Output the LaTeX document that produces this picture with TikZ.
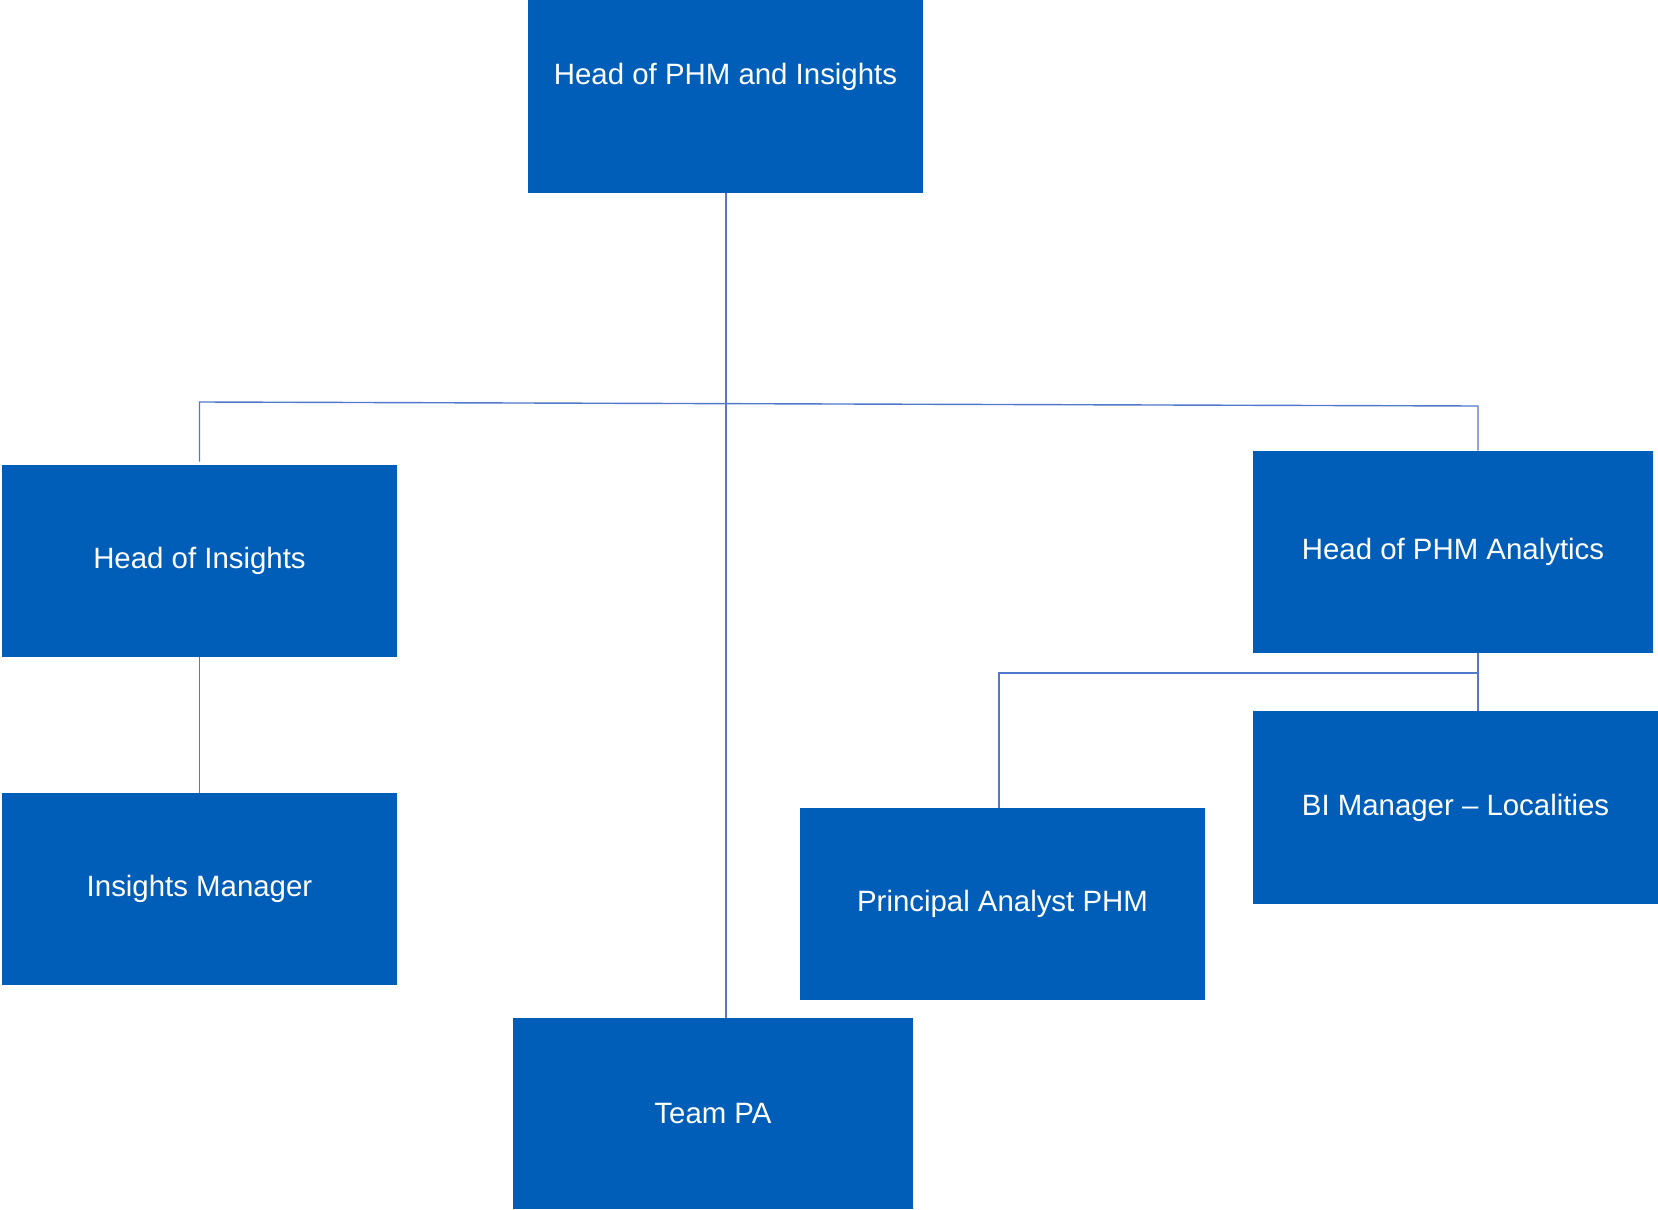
\documentclass[tikz,border=0pt]{standalone}
\usepackage{fontspec}
\setmainfont{Liberation Sans}
\definecolor{boxblue}{HTML}{005EB8}
\definecolor{linkblue}{HTML}{5079CC}
\begin{document}
\begin{tikzpicture}[x=0.5pt,y=-0.5pt,
  box/.style={rectangle, fill=boxblue, draw=none, inner sep=0pt, text=white,
    font=\fontsize{14.7pt}{17pt}\selectfont},
  lbl/.style={inner sep=0pt, text=white, font=\fontsize{14.7pt}{17pt}\selectfont},
  link/.style={draw=linkblue, line width=0.7pt}]
\useasboundingbox (0,0) rectangle (1658,1209);
\fill[white] (0,0) rectangle (1658,1209);
% boxes
\node[box, minimum width=395*0.5pt, minimum height=193*0.5pt] (top) at (725.5,96.5) {};
\node[lbl] (toptext) at (725.5,77) {Head of PHM and Insights};
\node[box, minimum width=395*0.5pt, minimum height=192*0.5pt] (hoi) at (199.5,561) {Head of Insights};
\node[box, minimum width=395*0.5pt, minimum height=192*0.5pt] (im) at (199.5,889) {Insights Manager};
\node[box, minimum width=400*0.5pt, minimum height=202*0.5pt] (hpa) at (1453,552) {Head of PHM Analytics};
\node[box, minimum width=405*0.5pt, minimum height=193*0.5pt] (bi) at (1455.5,807.5) {BI Manager -- Localities};
\node[box, minimum width=405*0.5pt, minimum height=192*0.5pt] (pa) at (1002.5,904) {Principal Analyst PHM};
\node[box, minimum width=400*0.5pt, minimum height=191*0.5pt] (team) at (713,1113.5) {Team PA};
% connector points
\coordinate (hL) at (199.5,402);
\coordinate (hR) at (1478,406);
\coordinate (lR) at (1478,673);
\coordinate (lL) at (999,673);
% connectors
\draw[link] (top.south -| 726,0) -- (726,0 |- team.north);
\draw[link] (hoi.north) ++(0,-3) -- (hL) -- (hR) -- (hR |- hpa.north);
\draw[link] (hoi.south) -- (im.north);
\draw[link] (hR |- hpa.south) -- (hR |- bi.north);
\draw[link] (lR) -- (lL) -- (lL |- pa.north);
\end{tikzpicture}
\end{document}
